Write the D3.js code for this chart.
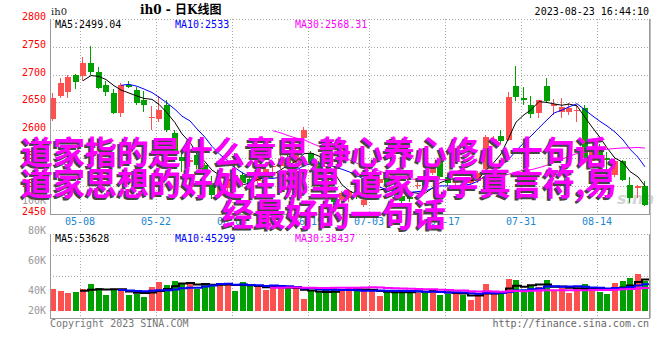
<!DOCTYPE html>
<html>
<head>
<meta charset="utf-8">
<script src="https://cdn.jsdelivr.net/npm/d3@7"></script>
<style>
  body { margin: 0; background: #fff; }
  svg { display: block; }
  text { font-family: "DejaVu Sans Mono", monospace; font-size: 10px; }
</style>
</head>
<body>
<div id="chart"></div>
<script>
// daily candles, 79 trading days
const opens = [2620, 2661, 2668, 2700, 2697, 2721, 2705, 2681, 2667, 2631, 2682, 2673, 2655, 2621, 2620, 2646, 2594, 2552, 2543, 2555,
  2538, 2505, 2484, 2495, 2520, 2519, 2512, 2508, 2525, 2533, 2535, 2550, 2542, 2585, 2558, 2540, 2520, 2481, 2475, 2478,
  2490, 2466, 2490, 2505, 2517, 2499, 2482, 2480, 2500, 2506, 2523, 2545, 2515, 2505, 2512, 2505, 2508, 2530, 2579, 2590,
  2582, 2679, 2657, 2646, 2630, 2679, 2644, 2632, 2633, 2636, 2639, 2545, 2562, 2550, 2520, 2545, 2502, 2496, 2499];
const highs = [2667, 2693, 2700, 2701, 2731, 2752, 2714, 2688, 2674, 2685, 2689, 2677, 2670, 2643, 2661, 2655, 2600, 2564, 2555, 2560,
  2540, 2517, 2505, 2518, 2558, 2525, 2518, 2536, 2540, 2545, 2555, 2556, 2570, 2606, 2562, 2545, 2522, 2485, 2490, 2494,
  2495, 2478, 2508, 2516, 2520, 2503, 2486, 2485, 2508, 2510, 2538, 2550, 2520, 2516, 2515, 2514, 2527, 2592, 2590, 2600,
  2668, 2716, 2677, 2662, 2655, 2693, 2656, 2658, 2648, 2645, 2645, 2570, 2575, 2560, 2548, 2547, 2516, 2501, 2508];
const lows = [2616, 2658, 2658, 2674, 2689, 2700, 2674, 2662, 2629, 2624, 2676, 2645, 2633, 2600, 2615, 2597, 2555, 2525, 2535, 2530,
  2520, 2476, 2478, 2490, 2505, 2500, 2495, 2505, 2520, 2525, 2530, 2535, 2538, 2580, 2538, 2515, 2485, 2465, 2470, 2470,
  2476, 2462, 2486, 2500, 2495, 2478, 2468, 2470, 2494, 2494, 2520, 2512, 2500, 2500, 2500, 2502, 2505, 2526, 2574, 2575,
  2580, 2653, 2645, 2621, 2621, 2649, 2627, 2621, 2627, 2615, 2546, 2540, 2540, 2530, 2515, 2508, 2468, 2478, 2463];
const closes = [2658, 2684, 2696, 2686, 2721, 2704, 2676, 2668, 2631, 2682, 2677, 2649, 2646, 2623, 2637, 2601, 2560, 2545, 2546, 2538,
  2527, 2484, 2498, 2512, 2510, 2505, 2499, 2532, 2530, 2535, 2548, 2540, 2565, 2600, 2541, 2520, 2490, 2470, 2487, 2490,
  2481, 2475, 2505, 2512, 2499, 2483, 2472, 2476, 2502, 2499, 2534, 2515, 2505, 2512, 2505, 2510, 2523, 2588, 2584, 2580,
  2660, 2660, 2654, 2629, 2654, 2652, 2647, 2642, 2640, 2637, 2549, 2560, 2548, 2547, 2544, 2511, 2478, 2499, 2466];
const volumes = [38900, 35300, 31800, 33600, 38900, 47700, 40600, 28300, 36600, 38900, 28300, 29500, 24700, 42400, 51200, 46500, 53000, 49500, 47200, 38900,
  49500, 47700, 49500, 47700, 35300, 51200, 44200, 42400, 37100, 44200, 41200, 42400, 38900, 21200, 37100, 33600, 37100, 40600, 36600, 40600,
  36600, 36600, 36600, 26500, 33600, 32300, 36600, 36600, 32300, 32300, 38900, 28300, 30600, 29500, 28300, 19400, 29500, 47700, 29500, 35300,
  56500, 54800, 37100, 44200, 42400, 54800, 35300, 40600, 31800, 38900, 47700, 42400, 33600, 30000, 49500, 53000, 58300, 65400, 53000];

const dateLabels = ['05-08', '05-22', '06-05', '06-19', '07-03', '07-17', '07-31', '08-14'];
const dateIndex = [4, 14, 24, 34, 42, 52, 62, 72];
const priceTicks = [2800, 2750, 2700, 2650, 2600, 2550, 2500, 2450];
const volTicks = [100000, 80000, 60000, 40000, 20000];

const priceMaText = ['MA5:2499.04', 'MA10:2533', 'MA30:2568.31'];
const volMaText = ['MA5:53628', 'MA10:45299', 'MA30:38437'];
const maColors = ['#000000', '#0000ff', '#ff00ff'];
const maPeriods = [5, 10, 30];

const overlayLines = ['道家指的是什么意思,静心养心修心十句话,', '道家思想的好处在哪里,道家九字真言符,易', '经最好的一句话'];

const RED = '#ff5050', GREEN = '#00a000', GRID = '#aaa', FRAME = '#999';

const svg = d3.select('#chart').append('svg').attr('width', 660).attr('height', 360);

const left = 50, right = 650;
const pTop = 19, pBottom = 213.5;
const vTop = 234, vBottom = 318;

const x = d3.scaleBand().domain(d3.range(closes.length)).range([left, right])
  .paddingInner(0.21).paddingOuter(0.105).align(0);
const bx = i => Math.round(x(i));
const yP = d3.scaleLinear().domain([2450, 2800]).range([pBottom, pTop]);
const yV = d3.scaleLinear().domain([0, 100000]).range([311, 254.4]);
// the volume labels sit unevenly in the original
const yVLabel = d3.scaleLinear().domain([20000, 40000, 100000]).range([310, 290, 200]);

function movingAvg(arr, n) {
  const out = [];
  for (let i = n - 1; i < arr.length; i++) out.push({ i, v: d3.mean(arr.slice(i - n + 1, i + 1)) });
  return out;
}

// grids
const grid = svg.append('g').attr('stroke', GRID).attr('stroke-dasharray', '1,2').attr('shape-rendering', 'crispEdges');
priceTicks.slice(1, -1).forEach(t => {
  grid.append('line').attr('x1', left).attr('x2', right).attr('y1', Math.round(yP(t)) + 0.5).attr('y2', Math.round(yP(t)) + 0.5);
});
grid.append('line').attr('x1', left).attr('x2', right).attr('y1', pTop + 0.5).attr('y2', pTop + 0.5);
dateIndex.forEach(i => {
  const gx = bx(i) + 0.5;
  grid.append('line').attr('x1', gx).attr('x2', gx).attr('y1', pTop).attr('y2', pBottom);
  grid.append('line').attr('x1', gx).attr('x2', gx).attr('y1', vTop).attr('y2', vBottom);
});
[0.25, 0.5].forEach(f => {
  const gy = Math.round(vTop + (vBottom - vTop) * f) + 0.5;
  grid.append('line').attr('x1', left).attr('x2', right).attr('y1', gy).attr('y2', gy);
});
grid.append('line').attr('x1', left).attr('x2', right).attr('y1', vTop + 0.5).attr('y2', vTop + 0.5);

// sina watermark
svg.append('text').attr('x', 617).attr('y', 204)
  .style('font-family', 'DejaVu Sans').style('font-size', '16px').style('font-weight', 'bold').style('font-style', 'italic')
  .attr('fill', '#d4d4d4').text('sina');

// candles
const candles = svg.append('g').attr('shape-rendering', 'crispEdges');
closes.forEach((c, i) => {
  const o = opens[i];
  const col = c >= o ? RED : GREEN;
  const cx = bx(i) + 2.5;
  candles.append('line').attr('x1', cx).attr('x2', cx)
    .attr('y1', yP(highs[i])).attr('y2', yP(lows[i])).attr('stroke', col);
  const top = yP(Math.max(o, c));
  const h = Math.max(1, Math.abs(yP(o) - yP(c)));
  candles.append('rect').attr('x', bx(i)).attr('y', top).attr('width', 6).attr('height', h).attr('fill', col);
});

// price moving averages
maPeriods.forEach((n, k) => {
  const line = d3.line().x(d => bx(d.i) + 3).y(d => yP(d.v));
  svg.append('path').datum(movingAvg(closes, n)).attr('d', line)
    .attr('fill', 'none').attr('stroke', maColors[k]).attr('stroke-width', 1);
});

// volume bars
const vbars = svg.append('g').attr('shape-rendering', 'crispEdges');
volumes.forEach((v, i) => {
  vbars.append('rect').attr('x', bx(i)).attr('y', yV(v)).attr('width', 6).attr('height', yV(0) - yV(v))
    .attr('fill', closes[i] >= opens[i] ? RED : GREEN);
});

// volume moving averages, stepped per bar
maPeriods.forEach((n, k) => {
  const pts = movingAvg(volumes, n).map(d => [bx(d.i), yV(d.v)]);
  const last = pts[pts.length - 1];
  pts.push([last[0] + x.step(), last[1]]);
  svg.append('path').datum(pts).attr('d', d3.line().curve(d3.curveStepAfter))
    .attr('fill', 'none').attr('stroke', maColors[k]).attr('stroke-width', 2);
});

// frames
const frame = svg.append('g').attr('stroke', FRAME).attr('fill', 'none').attr('shape-rendering', 'crispEdges');
frame.append('path').attr('d', `M${left + 0.5},${pTop} V${pBottom + 0.5} H${right} M${right - 0.5},${pTop} V${pBottom}`);
frame.append('path').attr('d', `M${left + 0.5},${vTop} V${vBottom + 0.5} H${right} M${right - 0.5},${vTop} V${vBottom}`);
frame.append('line').attr('x1', right + 0.5).attr('x2', right + 0.5).attr('y1', pTop).attr('y2', vBottom).attr('stroke', '#bbb');

// axis labels
priceTicks.forEach(t => {
  svg.append('text').attr('x', 46).attr('y', yP(t) + 1).attr('text-anchor', 'end').attr('fill', '#f00').text(t);
});
volTicks.forEach(t => {
  svg.append('text').attr('x', 46).attr('y', yVLabel(t) + 3.5).attr('text-anchor', 'end').attr('fill', '#999').text(t / 1000 + 'K');
});
dateLabels.forEach((d, k) => {
  svg.append('text').attr('x', bx(dateIndex[k])).attr('y', 225).attr('text-anchor', 'middle').attr('fill', '#1a86d0').text(d);
});

// headers
svg.append('text').attr('x', 51).attr('y', 15).attr('fill', '#222').style('font-family', 'DejaVu Serif').text('ih0');
svg.append('text').attr('x', 140).attr('y', 14).attr('fill', '#000')
  .style('font-family', '"DejaVu Serif", "Noto Sans CJK SC"').style('font-size', '12px').style('font-weight', 'bold').text('ih0 - 日K线图');
svg.append('text').attr('x', 649).attr('y', 15).attr('text-anchor', 'end').attr('fill', '#000').text('2023-08-23 16:44:10');
const maX = [55, 175, 295];
priceMaText.forEach((t, k) => svg.append('text').attr('x', maX[k]).attr('y', 27.5).attr('fill', maColors[k]).text(t));
volMaText.forEach((t, k) => svg.append('text').attr('x', maX[k]).attr('y', 241.5).attr('fill', maColors[k]).text(t));

svg.append('text').attr('x', 50).attr('y', 327).attr('fill', '#777').text('Copyright 2023 SINA.COM');
svg.append('text').attr('x', 649).attr('y', 327).attr('text-anchor', 'end').attr('fill', '#666').text('http://finance.sina.com.cn');

// big magenta title over the chart, one x per glyph (32px ideographs, narrow commas)
const lineX = [21, 21, 222];
const lineY = [164, 195, 226];
function glyphXs(str, x0) {
  const xs = [];
  let cx = x0;
  for (const ch of str) { xs.push(cx); cx += ch === ',' ? 10 : 32; }
  return xs;
}
const over = svg.append('g').style('font-family', '"Noto Sans CJK SC"').style('font-size', '32px').style('font-weight', 'bold');
overlayLines.forEach((t, k) => {
  const xs = glyphXs(t, lineX[k]);
  over.append('text').attr('x', xs.map(v => v - 2).join(' ')).attr('y', lineY[k] + 2).attr('fill', '#444')
    .style('font-family', '"Noto Sans CJK SC"').style('font-size', '32px').text(t);
  over.append('text').attr('x', xs.join(' ')).attr('y', lineY[k]).attr('fill', '#ff00ff')
    .style('font-family', '"Noto Sans CJK SC"').style('font-size', '32px').text(t);
});
</script>
</body>
</html>
